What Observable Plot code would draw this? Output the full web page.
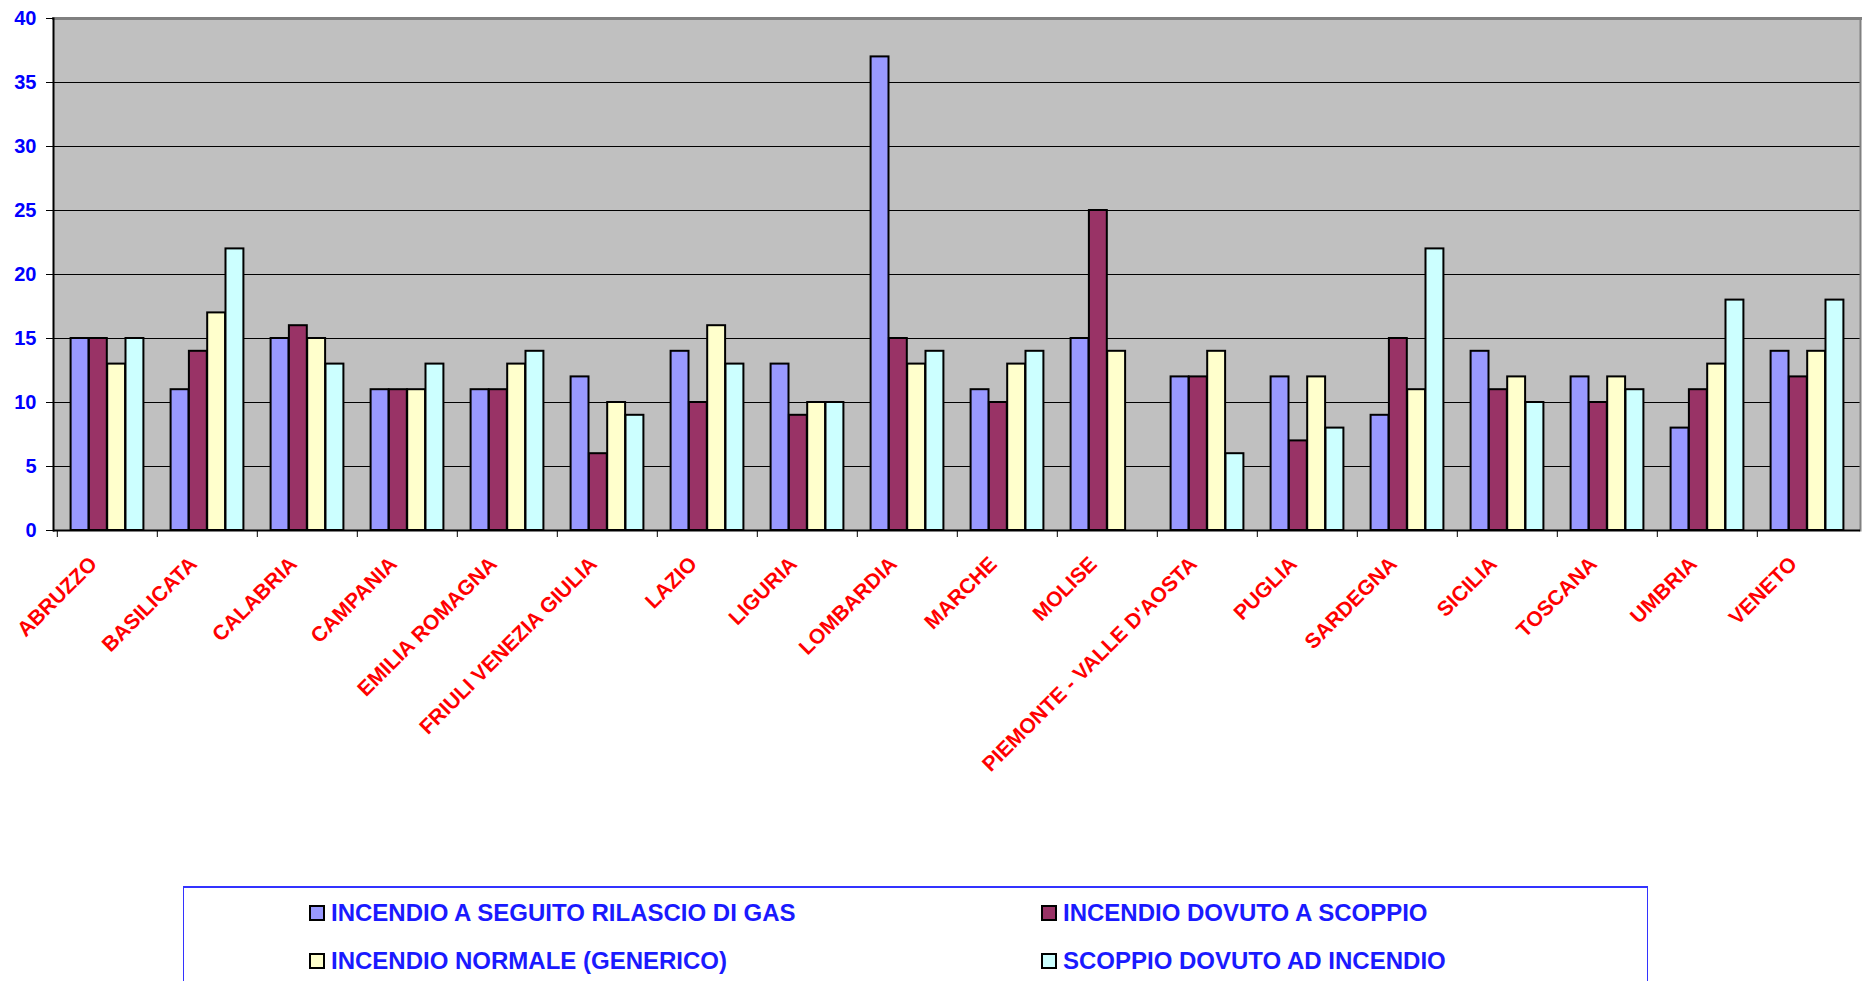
<!DOCTYPE html>
<html><head><meta charset="utf-8">
<script src="https://cdn.jsdelivr.net/npm/d3@7"></script>
<script src="https://cdn.jsdelivr.net/npm/@observablehq/plot@0.6"></script>
<style>
body{margin:0;background:#fff;font-family:"Liberation Sans",Arial,sans-serif;}
#chart svg{overflow:visible;display:block;}
#legend{position:absolute;left:183px;top:886px;width:1465px;height:120px;border:1px solid #3333ff;border-top-width:2px;box-sizing:border-box;}
.item{position:absolute;display:flex;align-items:center;font-weight:bold;font-size:24px;color:#1a1aff;white-space:nowrap;line-height:1;}
.sw{width:12px;height:12px;border:2px solid #000;margin-right:6px;flex:none;}
</style></head><body>
<div id="chart"></div><div id="legend"></div>
<script>
const regions = ["ABRUZZO","BASILICATA","CALABRIA","CAMPANIA","EMILIA ROMAGNA","FRIULI VENEZIA GIULIA","LAZIO","LIGURIA","LOMBARDIA","MARCHE","MOLISE","PIEMONTE - VALLE D'AOSTA","PUGLIA","SARDEGNA","SICILIA","TOSCANA","UMBRIA","VENETO"];
const seriesNames = ["INCENDIO A SEGUITO RILASCIO DI GAS","INCENDIO DOVUTO A SCOPPIO","INCENDIO NORMALE (GENERICO)","SCOPPIO DOVUTO AD INCENDIO"];
const seriesColors = ["#9999ff","#993366","#ffffcc","#ccffff"];
const gasValues     = [15,11,15,11,11,12,14,13,37,11,15,12,12, 9,14,12, 8,14];
const scoppioValues = [15,14,16,11,11, 6,10, 9,15,10,25,12, 7,15,11,10,11,12];
const normaleValues = [13,17,15,11,13,10,16,10,13,13,14,14,12,11,12,12,13,14];
const incendioValues= [15,22,13,13,14, 9,13,10,14,14,null,6, 8,22,10,11,18,18];
const yTicks = [0,5,10,15,20,25,30,35,40];

const allValues = [gasValues, scoppioValues, normaleValues, incendioValues];
const W = 1863, H = 880, mL = 53, mR = 3, mT = 18, mB = 350;
const bw = (W - mL - mR) / regions.length;
const barW = 18.3;
const inset = (bw - barW) / 2;

const barMarks = allValues.map((vals, i) => {
  const rows = regions.map((r, j) => ({region: r, value: vals[j], series: seriesNames[i]})).filter(d => d.value != null);
  return Plot.barY(rows, {x: "region", y: "value", fill: seriesColors[i], stroke: "#000", strokeWidth: 2,
    insetLeft: inset, insetRight: inset, dx: (i - 1.5) * barW});
});

const chart = Plot.plot({
  width: W, height: H,
  marginLeft: mL, marginRight: mR, marginTop: mT, marginBottom: mB,
  style: {fontFamily: "'Liberation Sans', Arial, sans-serif", background: "#fff"},
  x: {type: "band", domain: regions, padding: 0, label: null},
  y: {domain: [0, 40], label: null},
  marks: [
    Plot.frame({fill: "#c0c0c0", stroke: null}),
    Plot.gridY(yTicks.filter(t => t > 0 && t < 40), {stroke: "#000", strokeOpacity: 1, strokeWidth: 1.2}),
    Plot.frame({anchor: "top", stroke: "#808080", strokeWidth: 3}),
    Plot.frame({anchor: "right", stroke: "#808080", strokeWidth: 2}),
    ...barMarks,
    Plot.frame({anchor: "left", stroke: "#000", strokeWidth: 2}),
    Plot.ruleY([0], {stroke: "#000", strokeWidth: 2}),
    Plot.axisY({ticks: yTicks, tickSize: 7, tickPadding: 10, fontSize: 20, fontWeight: "bold", fill: "#0000ff", stroke: "#000", label: null}),
    Plot.axisX({tickSize: 7, tickFormat: () => "", dx: -bw / 2, stroke: "#000", label: null}),
    Plot.axisX({tickSize: 0, tickRotate: -45, tickPadding: 30, dx: -14, fontSize: 21, fontWeight: "bold", fill: "#ff0000", label: null})
  ]
});
document.getElementById("chart").appendChild(chart);

const legend = document.getElementById("legend");
const pos = [[125, 13], [857, 13], [125, 61], [857, 61]];
seriesNames.forEach((name, i) => {
  const it = document.createElement("div");
  it.className = "item";
  it.style.left = pos[i][0] + "px";
  it.style.top = pos[i][1] + "px";
  const sw = document.createElement("span");
  sw.className = "sw";
  sw.style.background = seriesColors[i];
  it.appendChild(sw);
  it.appendChild(document.createTextNode(name));
  legend.appendChild(it);
});
</script>
</body></html>
